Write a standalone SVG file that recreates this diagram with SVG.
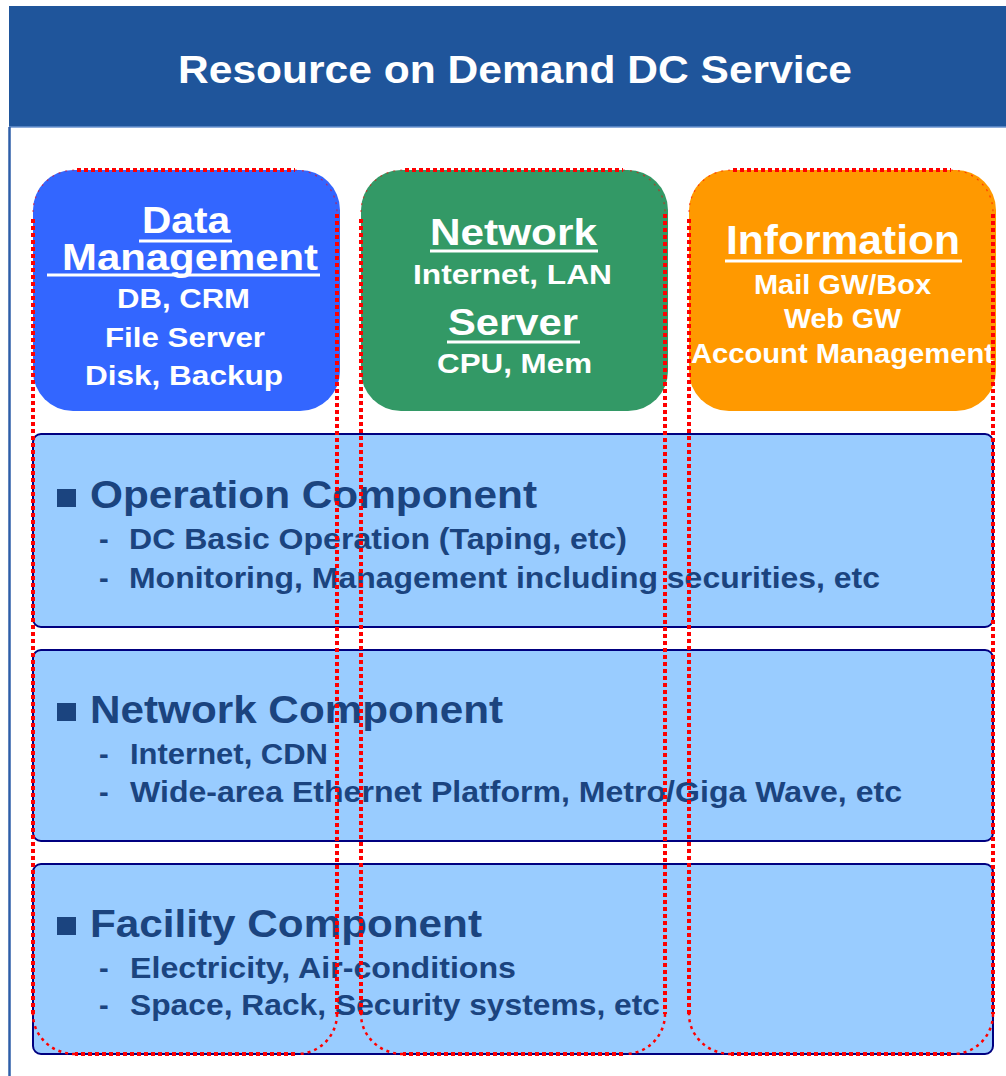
<svg xmlns="http://www.w3.org/2000/svg" width="1006" height="1076" viewBox="0 0 1006 1076">
<style>
  text { font-family: "Liberation Sans", Arial, "DejaVu Sans", sans-serif; font-weight: bold; }
  .title { fill: #FFFFFF; font-size: 39px; }
  .hd { fill: #FFFFFF; font-size: 37px; }
  .sub { fill: #FFFFFF; font-size: 28px; }
  .ul { stroke: #FFFFFF; stroke-width: 3; }
  .band { fill: #99CCFF; stroke: #000080; stroke-width: 2; }
  .bh { fill: #1B447F; font-size: 39px; }
  .bi { fill: #1B447F; font-size: 29px; }
  .sq { fill: #1B447F; }
  .col { fill: none; stroke: #FF0000; stroke-width: 4; stroke-dasharray: 4 3; }
  .colarc { fill: none; stroke: #FF0000; stroke-width: 2.5; stroke-dasharray: 3 4; }
  .colarc-top { fill: none; stroke: #FF0000; stroke-width: 1.2; stroke-dasharray: 2 5; opacity: 0.6; }
</style>

<g id="frame">
  <rect x="0" y="0" width="1006" height="1076" fill="#FFFFFF"/>
  <rect x="9" y="6" width="1000" height="121" fill="#1F559B"/>
  <line x1="9" y1="127" x2="1006" y2="127" stroke="#6A93CF" stroke-width="1.5"/>
  <line x1="9.5" y1="127" x2="9.5" y2="1076" stroke="#2E5EA8" stroke-width="2.5"/>
  <text class="title" x="178" y="83" textLength="674" lengthAdjust="spacingAndGlyphs">Resource on Demand DC Service</text>
</g>

<g id="band-operation">
  <rect class="band" x="33" y="434" width="960" height="193" rx="8"/>
  <rect class="sq" x="57" y="489" width="19" height="18"/>
  <text class="bh" x="90" y="508" textLength="447" lengthAdjust="spacingAndGlyphs">Operation Component</text>
  <text class="bi" x="99" y="549">-</text>
  <text class="bi" x="129" y="549" textLength="498" lengthAdjust="spacingAndGlyphs">DC Basic Operation (Taping, etc)</text>
  <text class="bi" x="99" y="588">-</text>
  <text class="bi" x="129" y="588" textLength="751" lengthAdjust="spacingAndGlyphs">Monitoring, Management including securities, etc</text>
</g>

<g id="band-network">
  <rect class="band" x="33" y="650" width="960" height="191" rx="8"/>
  <rect class="sq" x="57" y="703" width="19" height="18"/>
  <text class="bh" x="90" y="723" textLength="413" lengthAdjust="spacingAndGlyphs">Network Component</text>
  <text class="bi" x="99" y="764">-</text>
  <text class="bi" x="130" y="764" textLength="198" lengthAdjust="spacingAndGlyphs">Internet, CDN</text>
  <text class="bi" x="99" y="802">-</text>
  <text class="bi" x="130" y="802" textLength="772" lengthAdjust="spacingAndGlyphs">Wide-area Ethernet Platform, Metro/Giga Wave, etc</text>
</g>

<g id="band-facility">
  <rect class="band" x="33" y="864" width="960" height="190" rx="8"/>
  <rect class="sq" x="57" y="917" width="19" height="18"/>
  <text class="bh" x="90" y="937" textLength="392" lengthAdjust="spacingAndGlyphs">Facility Component</text>
  <text class="bi" x="99" y="978">-</text>
  <text class="bi" x="130" y="978" textLength="386" lengthAdjust="spacingAndGlyphs">Electricity, Air-conditions</text>
  <text class="bi" x="99" y="1015">-</text>
  <text class="bi" x="130" y="1015" textLength="530" lengthAdjust="spacingAndGlyphs">Space, Rack, Security systems, etc</text>
</g>

<g id="node-data">
  <rect x="33" y="170" width="307" height="241" rx="40" fill="#3366FF"/>
  <text class="hd" x="142" y="233" textLength="88" lengthAdjust="spacingAndGlyphs">Data</text>
  <line class="ul" x1="139" y1="241" x2="232" y2="241"/>
  <text class="hd" x="62" y="270" textLength="256" lengthAdjust="spacingAndGlyphs">Management</text>
  <line class="ul" x1="47" y1="275" x2="320" y2="275"/>
  <text class="sub" x="117" y="308" textLength="133" lengthAdjust="spacingAndGlyphs">DB, CRM</text>
  <text class="sub" x="105" y="347" textLength="160" lengthAdjust="spacingAndGlyphs">File Server</text>
  <text class="sub" x="85" y="385" textLength="198" lengthAdjust="spacingAndGlyphs">Disk, Backup</text>
</g>

<g id="node-network">
  <rect x="361" y="170" width="307" height="241" rx="40" fill="#339966"/>
  <text class="hd" x="430" y="245" textLength="167" lengthAdjust="spacingAndGlyphs">Network</text>
  <line class="ul" x1="430" y1="251" x2="598" y2="251"/>
  <text class="sub" x="413" y="284" textLength="199" lengthAdjust="spacingAndGlyphs">Internet, LAN</text>
  <text class="hd" x="448" y="335" textLength="130" lengthAdjust="spacingAndGlyphs">Server</text>
  <line class="ul" x1="447" y1="342" x2="580" y2="342"/>
  <text class="sub" x="437" y="373" textLength="155" lengthAdjust="spacingAndGlyphs">CPU, Mem</text>
</g>

<g id="node-information">
  <rect x="689" y="170" width="307" height="241" rx="40" fill="#FF9900"/>
  <text class="hd" x="726" y="254" textLength="234" lengthAdjust="spacingAndGlyphs" style="font-size:40px">Information</text>
  <line class="ul" x1="725" y1="261" x2="962" y2="261"/>
  <text class="sub" x="754" y="294" textLength="177" lengthAdjust="spacingAndGlyphs">Mail GW/Box</text>
  <text class="sub" x="784" y="328" textLength="117" lengthAdjust="spacingAndGlyphs">Web GW</text>
  <text class="sub" x="691" y="363" textLength="303" lengthAdjust="spacingAndGlyphs">Account Management</text>
</g>

<g id="connectors">
  <g id="column-data">
    <path class="col" d="M77,170 H295 M337,214 V1014 M295,1054 H75 M33,1014 V216"/>
    <path class="colarc" d="M337,1014 A40,40 0 0 1 297,1054 M75,1054 A42,40 0 0 1 33,1014"/>
    <path class="colarc-top" d="M295,170 A42,42 0 0 1 337,212 M33,212 A42,42 0 0 1 75,170"/>
  </g>
  <g id="column-network">
    <path class="col" d="M405,170 H623 M665,214 V1014 M623,1054 H403 M361,1014 V216"/>
    <path class="colarc" d="M665,1014 A40,40 0 0 1 625,1054 M403,1054 A42,40 0 0 1 361,1014"/>
    <path class="colarc-top" d="M623,170 A42,42 0 0 1 665,212 M361,212 A42,42 0 0 1 403,170"/>
  </g>
  <g id="column-information">
    <path class="col" d="M733,170 H951 M993,214 V1014 M951,1054 H731 M689,1014 V216"/>
    <path class="colarc" d="M993,1014 A40,40 0 0 1 953,1054 M731,1054 A42,40 0 0 1 689,1014"/>
    <path class="colarc-top" d="M951,170 A42,42 0 0 1 993,212 M689,212 A42,42 0 0 1 731,170"/>
  </g>
</g>
</svg>
